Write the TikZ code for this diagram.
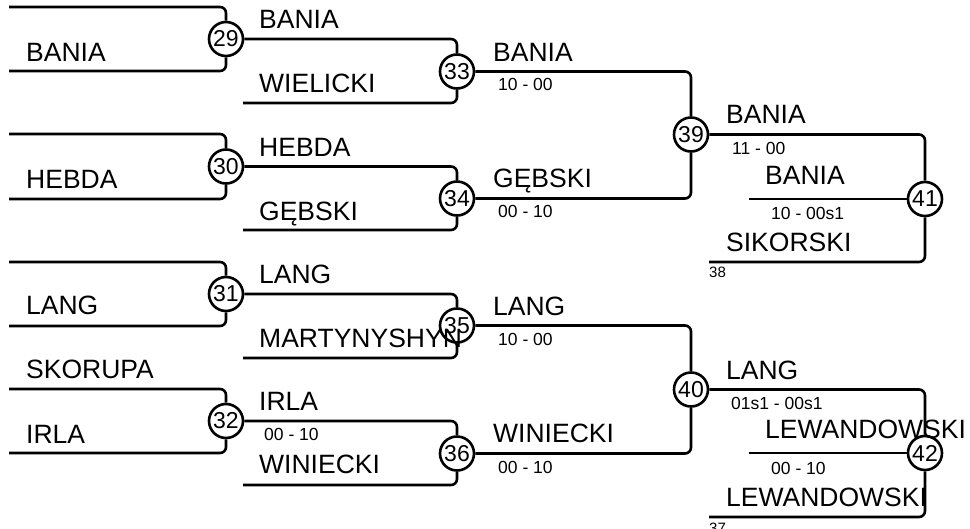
\documentclass[tikz,border=0pt]{standalone}
\usepackage{fontspec}
\setmainfont{Liberation Sans}
\begin{document}
\begin{tikzpicture}[x=1pt,y=-1pt,
  conn/.style={line width=2.6pt, rounded corners=6pt},
  match/.style={circle, draw, line width=2.6pt, fill=white, minimum size=34pt, inner sep=0pt, font=\fontsize{23}{23}\selectfont},
  pname/.style={anchor=base west, inner sep=0pt, font=\fontsize{26.5}{26.5}\selectfont},
  score/.style={anchor=base west, inner sep=0pt, font=\fontsize{17.5}{17.5}\selectfont},
  seed/.style={anchor=base west, inner sep=0pt, font=\fontsize{15}{15}\selectfont}]
\useasboundingbox (0,0) rectangle (970,528);
% free ends
\coordinate (a29t) at (9,7);   \coordinate (a29b) at (9,71);
\coordinate (a30t) at (9,134); \coordinate (a30b) at (9,199);
\coordinate (a31t) at (9,262); \coordinate (a31b) at (9,326);
\coordinate (a32t) at (9,389); \coordinate (a32b) at (9,453);
\coordinate (a33b) at (243,103);
\coordinate (a34b) at (243,230);
\coordinate (a35b) at (243,358);
\coordinate (a36b) at (243,485);
\coordinate (a41m) at (749,199); \coordinate (a41b) at (709,262);
\coordinate (a42m) at (749,453); \coordinate (a42b) at (709,517);
% match circles
\node[match] (m29) at (226,39) {29};
\node[match] (m30) at (226,166.5) {30};
\node[match] (m31) at (226,294) {31};
\node[match] (m32) at (226,421) {32};
\node[match] (m33) at (457,71.5) {33};
\node[match] (m34) at (457,198.5) {34};
\node[match] (m35) at (457,325.5) {35};
\node[match] (m36) at (457,453.5) {36};
\node[match] (m39) at (691,134.5) {39};
\node[match] (m40) at (691,389.5) {40};
\node[match] (m41) at (925,199) {41};
\node[match] (m42) at (925,453) {42};
% connectors
\draw[conn] (a29t) -| (m29); \draw[conn] (a29b) -| (m29);
\draw[conn] (a30t) -| (m30); \draw[conn] (a30b) -| (m30);
\draw[conn] (a31t) -| (m31); \draw[conn] (a31b) -| (m31);
\draw[conn] (a32t) -| (m32); \draw[conn] (a32b) -| (m32);
\draw[conn] (m29) -| (m33); \draw[conn] (a33b) -| (m33);
\draw[conn] (m30) -| (m34); \draw[conn] (a34b) -| (m34);
\draw[conn] (m31) -| (m35); \draw[conn] (a35b) -| (m35);
\draw[conn] (m32) -| (m36); \draw[conn] (a36b) -| (m36);
\draw[conn] (m33) -| (m39); \draw[conn] (m34) -| (m39);
\draw[conn] (m35) -| (m40); \draw[conn] (m36) -| (m40);
\draw[conn] (m39) -| (m41); \draw[conn] (a41b) -| (m41); \draw[conn] (a41m) -- (m41);
\draw[conn] (m40) -| (m42); \draw[conn] (a42b) -| (m42); \draw[conn] (a42m) -- (m42);
% names column 1
\node[pname] (t1) at (26,61) {BANIA};
\node[pname] (t2) at (26,188) {HEBDA};
\node[pname] (t3) at (26,314) {LANG};
\node[pname] (t4) at (26,378) {SKORUPA};
\node[pname] (t5) at (26,443) {IRLA};
% column 2
\node[pname] (u1) at (259,28) {BANIA};
\node[pname] (u2) at (259,92) {WIELICKI};
\node[pname] (u3) at (259,156) {HEBDA};
\node[pname] (u4) at (259,220) {GĘBSKI};
\node[pname] (u5) at (259,283) {LANG};
\node[pname] (u6) at (259,347) {MARTYNYSHYN};
\node[pname] (u7) at (259,410) {IRLA};
\node[pname] (u8) at (259,473) {WINIECKI};
\node[score] (s1) at (264,440) {00 - 10};
% column 3
\node[pname] (v1) at (493,61) {BANIA};
\node[score] (s2) at (498,90) {10 - 00};
\node[pname] (v2) at (493,187) {GĘBSKI};
\node[score] (s3) at (498,217) {00 - 10};
\node[pname] (v3) at (493,315) {LANG};
\node[score] (s4) at (498,345) {10 - 00};
\node[pname] (v4) at (493,442) {WINIECKI};
\node[score] (s5) at (498,473) {00 - 10};
% column 4
\node[pname] (w1) at (726,123) {BANIA};
\node[score] (s6) at (732,154) {11 - 00};
\node[pname] (w2) at (765,184) {BANIA};
\node[score] (s7) at (771,219) {10 - 00s1};
\node[pname] (w3) at (726,251) {SIKORSKI};
\node[seed] (d1) at (709,277) {38};
\node[pname] (w4) at (726,379) {LANG};
\node[score] (s8) at (731,409) {01s1 - 00s1};
\node[pname] (w5) at (765,438) {LEWANDOWSKI};
\node[score] (s9) at (771,474) {00 - 10};
\node[pname] (w6) at (726,506) {LEWANDOWSKI};
\node[seed] (d2) at (709,533) {37};
\end{tikzpicture}
\end{document}
